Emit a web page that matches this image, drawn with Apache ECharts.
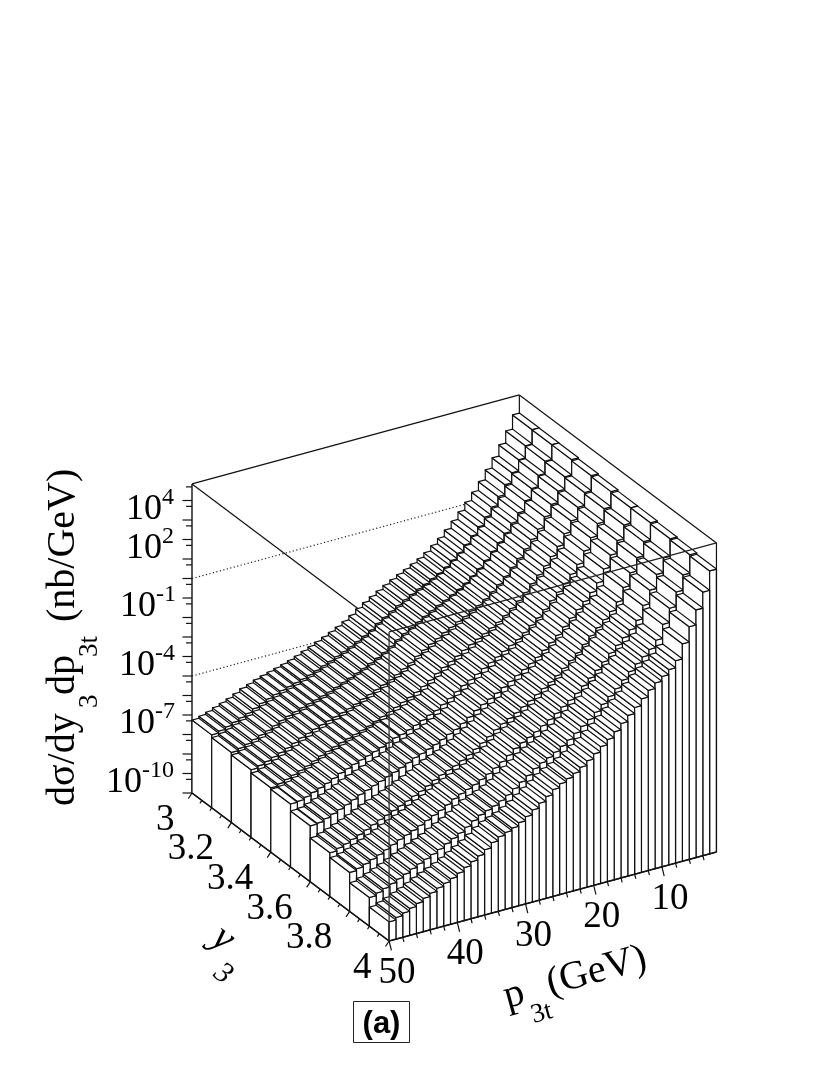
<!DOCTYPE html>
<html><head><meta charset="utf-8">
<style>html,body{margin:0;padding:0;background:#fff}#c{width:830px;height:1075px}</style>
<script src="https://cdn.jsdelivr.net/npm/echarts@6/dist/echarts.min.js"></script>
</head><body><div id="c"></div>
<script>
// upper edge (GeV) of each p_3t bin: 3,4,...,50
const pBinUpper = [3,4,5,6,7,8,9,10,11,12,13,14,15,16,17,18,19,20,21,22,23,24,25,26,27,28,29,30,31,32,33,34,35,36,37,38,39,40,41,42,43,44,45,46,47,48,49,50];
// log10(dsigma/dy3 dp3t) per y3 bin, lower edge in the name
const y30 = [4.92,4.19,3.57,3.00,2.48,1.97,1.52,1.10,0.70,0.32,-0.04,-0.37,-0.65,-0.92,-1.14,-1.32,-1.50,-1.66,-1.84,-2.02,-2.22,-2.42,-2.63,-2.85,-3.10,-3.31,-3.50,-3.67,-3.83,-3.98,-4.13,-4.27,-4.42,-4.55,-4.66,-4.76,-4.86,-4.96,-5.07,-5.20,-5.33,-5.50,-5.66,-5.79,-5.92,-6.05,-6.16,-6.26];
const y31 = [4.91,4.16,3.53,2.95,2.41,1.89,1.45,1.03,0.64,0.27,-0.09,-0.42,-0.71,-0.98,-1.20,-1.39,-1.57,-1.74,-1.92,-2.11,-2.31,-2.51,-2.71,-2.93,-3.18,-3.40,-3.59,-3.76,-3.93,-4.08,-4.23,-4.37,-4.52,-4.66,-4.77,-4.88,-4.98,-5.09,-5.20,-5.33,-5.46,-5.63,-5.79,-5.92,-6.05,-6.19,-6.30,-6.40];
const y32 = [4.90,4.12,3.48,2.89,2.35,1.81,1.37,0.97,0.58,0.21,-0.15,-0.48,-0.76,-1.04,-1.27,-1.46,-1.65,-1.82,-2.01,-2.19,-2.40,-2.59,-2.80,-3.02,-3.27,-3.48,-3.68,-3.86,-4.02,-4.17,-4.32,-4.46,-4.62,-4.76,-4.88,-4.99,-5.10,-5.21,-5.33,-5.46,-5.59,-5.76,-5.92,-6.06,-6.19,-6.32,-6.43,-6.53];
const y33 = [4.84,4.07,3.41,2.81,2.24,1.68,1.25,0.86,0.49,0.13,-0.23,-0.56,-0.85,-1.13,-1.37,-1.57,-1.77,-1.95,-2.14,-2.33,-2.54,-2.73,-2.93,-3.15,-3.40,-3.62,-3.82,-3.99,-4.15,-4.31,-4.46,-4.60,-4.74,-4.89,-5.02,-5.13,-5.25,-5.36,-5.48,-5.62,-5.75,-5.92,-6.08,-6.22,-6.35,-6.48,-6.60,-6.70];
const y34 = [4.78,4.00,3.33,2.70,2.11,1.52,1.10,0.72,0.37,0.02,-0.34,-0.67,-0.96,-1.24,-1.50,-1.71,-1.91,-2.11,-2.31,-2.51,-2.71,-2.91,-3.10,-3.32,-3.57,-3.79,-4.00,-4.14,-4.31,-4.47,-4.61,-4.75,-4.83,-4.99,-5.13,-5.25,-5.37,-5.49,-5.61,-5.75,-5.88,-6.05,-6.21,-6.35,-6.48,-6.62,-6.73,-6.77];
const y35 = [4.71,3.92,3.22,2.57,1.95,1.33,0.92,0.56,0.23,-0.11,-0.46,-0.80,-1.09,-1.38,-1.65,-1.88,-2.09,-2.30,-2.51,-2.72,-2.92,-3.12,-3.31,-3.52,-3.77,-4.00,-4.21,-4.36,-4.54,-4.70,-4.84,-4.98,-5.09,-5.26,-5.41,-5.55,-5.68,-5.82,-5.95,-6.09,-6.22,-6.39,-6.55,-6.70,-6.83,-6.97,-7.09,-7.13];
const y36 = [4.70,3.83,3.10,2.42,1.76,1.11,0.71,0.38,0.06,-0.26,-0.61,-0.95,-1.25,-1.55,-1.83,-2.07,-2.30,-2.52,-2.75,-2.96,-3.17,-3.36,-3.54,-3.75,-4.01,-4.24,-4.46,-4.67,-4.86,-5.03,-5.17,-5.31,-5.48,-5.68,-5.86,-6.01,-6.17,-6.32,-6.47,-6.61,-6.75,-6.91,-7.08,-7.23,-7.37,-7.51,-7.63,-7.75];
const y37 = [4.64,3.75,3.00,2.29,1.60,0.92,0.53,0.22,-0.08,-0.39,-0.74,-1.08,-1.38,-1.69,-1.98,-2.24,-2.48,-2.72,-2.95,-3.17,-3.38,-3.57,-3.75,-3.95,-4.21,-4.45,-4.67,-4.88,-5.07,-5.24,-5.38,-5.52,-5.68,-5.89,-6.08,-6.24,-6.41,-6.57,-6.73,-6.87,-7.01,-7.18,-7.34,-7.50,-7.64,-7.78,-7.91,-8.00];
const y38 = [4.58,3.64,2.86,2.12,1.39,0.67,0.29,0.00,-0.27,-0.57,-0.91,-1.26,-1.56,-1.87,-2.18,-2.46,-2.71,-2.97,-3.22,-3.45,-3.66,-3.85,-4.02,-4.22,-4.48,-4.72,-4.96,-5.20,-5.40,-5.57,-5.70,-5.84,-6.04,-6.27,-6.48,-6.66,-6.84,-7.03,-7.19,-7.34,-7.49,-7.65,-7.82,-7.98,-8.13,-8.27,-8.40,-8.53];
const y39 = [4.51,3.52,2.70,1.93,1.15,0.38,0.02,-0.24,-0.48,-0.76,-1.10,-1.45,-1.76,-2.08,-2.41,-2.71,-2.98,-3.26,-3.52,-3.76,-3.98,-4.16,-4.32,-4.52,-4.78,-5.03,-5.28,-5.53,-5.74,-5.92,-6.05,-6.19,-6.39,-6.65,-6.88,-7.08,-7.28,-7.48,-7.66,-7.81,-7.96,-8.12,-8.29,-8.46,-8.61,-8.76,-8.89,-9.02];
const yBinLower = [3.0,3.1,3.2,3.3,3.4,3.5,3.6,3.7,3.8,3.9];
const yRows = [y30,y31,y32,y33,y34,y35,y36,y37,y38,y39];

const zTickValues = [4,2,-1,-4,-7,-10];
const zTickExp = ['4','2','-1','-4','-7','-10'];
const zTickLabelX = [126,126,120,119,119,106];
const yTickLabels = ['3','3.2','3.4','3.6','3.8','4'];
const pTickLabels = ['50','40','30','20','10'];
const dottedZ = [1,-4];

const Y_BIN = 0.1, P_MIN = 2, P_MAX = 50, Y_MIN = 3, Y_MAX = 4, Z_MIN = -10, Z_MAX = 5.85;
// oblique view expressed in axis units
const U_PER_Y = 28.9, V_PER_P = 0.0951, V_PER_Y = 7.59;
const proj = (p,y,z) => [(P_MAX-p) + (y-Y_MIN)*U_PER_Y, z + (P_MAX-p)*V_PER_P - (y-Y_MIN)*V_PER_Y];

const barData = [];
yRows.forEach((row,i)=>row.forEach((v,j)=>barData.push([pBinUpper[j],yBinLower[i],v])));

const FONT = '"Liberation Serif"';
const INK = '#000';
const LW = 1.2;
const line = (a,b,extra) => ({type:'line',silent:true,shape:{x1:a[0],y1:a[1],x2:b[0],y2:b[1]},
  style:Object.assign({stroke:'#111',lineWidth:LW,fill:null},extra||{})});
const oneShot = (fn,z) => ({type:'custom',coordinateSystem:'cartesian2d',data:[[0,0]],z,silent:true,
  animation:false,clip:false,renderItem:(params,api)=>({type:'group',children:fn(api)})});
const pt = (api,p,y,z) => api.coord(proj(p,y,z));

// frame behind the bars, dotted grid lines, ticks and tick labels
const backLayer = api => {
  const c=[];
  const P=(p,y,z)=>pt(api,p,y,z);
  c.push(line(P(P_MAX,Y_MIN,Z_MAX),P(P_MIN,Y_MIN,Z_MAX)));
  c.push(line(P(P_MIN,Y_MIN,Z_MAX),P(P_MIN,Y_MAX,Z_MAX)));
  c.push(line(P(P_MAX,Y_MIN,Z_MAX),P(P_MAX,Y_MAX,Z_MAX)));
  c.push(line(P(P_MAX,Y_MIN,Z_MIN),P(P_MAX,Y_MIN,Z_MAX),{lineWidth:1.4}));
  c.push(line(P(P_MIN,Y_MIN,Z_MIN),P(P_MIN,Y_MIN,Z_MAX)));
  dottedZ.forEach(z=>c.push(line(P(P_MAX,Y_MIN,z),P(P_MIN,Y_MIN,z),{lineDash:[1.2,2.4],stroke:'#222'})));
  // z ticks: decades long, 5x10^(n-1) short
  for(let n=-10;n<=5;n++){
    const a=P(P_MAX,Y_MIN,n); c.push(line(a,[a[0]-9.5,a[1]]));
    const s=n+Math.log10(5); if(s<=Z_MAX){const b=P(P_MAX,Y_MIN,s); c.push(line(b,[b[0]-6,b[1]]));}
  }
  zTickValues.forEach((z,i)=>{
    const a=P(P_MAX,Y_MIN,z);
    c.push({type:'text',silent:true,x:zTickLabelX[i],y:a[1]-10.5,style:{text:'10',font:'36px '+FONT,fill:INK,align:'left',verticalAlign:'middle'}});
    c.push({type:'text',silent:true,x:zTickLabelX[i]+36,y:a[1]-22.5,style:{text:zTickExp[i],font:'24px '+FONT,fill:INK,align:'left',verticalAlign:'middle'}});
  });
  // y ticks
  for(let k=0;k<=20;k++){
    const y=Y_MIN+k*0.05, a=P(P_MAX,y,Z_MIN), long=k%4===0;
    c.push(line(a,[a[0]-(long?3.6:1.9),a[1]+(long?5.5:3)]));
  }
  yTickLabels.forEach((t,k)=>{
    const a=P(P_MAX,Y_MIN+k*0.2,Z_MIN);
    c.push({type:'text',silent:true,x:a[0]-17.5,y:a[1]+27,style:{text:t,font:'37px '+FONT,fill:INK,align:'right',verticalAlign:'middle'}});
  });
  // p ticks
  for(let v=4;v<=50;v+=2){
    const a=P(v,Y_MAX,Z_MIN), long=v%10===0;
    c.push(line(a,[a[0]+(long?2.3:1.2),a[1]+(long?9.3:4.5)]));
  }
  pTickLabels.forEach((t,k)=>{
    const a=P(50-k*10,Y_MAX,Z_MIN);
    c.push({type:'text',silent:true,x:a[0]+8,y:a[1]+32,style:{text:t,font:'37px '+FONT,fill:INK,align:'center',verticalAlign:'middle'}});
  });
  return c;
};

// frame edges that lie in front of the bars
const frontLayer = api => {
  const c=[];
  const P=(p,y,z)=>pt(api,p,y,z);
  c.push(line(P(P_MAX,Y_MIN,Z_MIN),P(P_MAX,Y_MAX,Z_MIN),{lineWidth:1.5}));
  c.push(line(P(P_MAX,Y_MAX,Z_MIN),P(P_MIN,Y_MAX,Z_MIN),{lineWidth:1.5}));
  c.push(line(P(P_MAX,Y_MAX,Z_MIN),P(P_MAX,Y_MAX,Z_MAX),{stroke:'#333',lineWidth:1.3}));
  c.push(line(P(P_MIN,Y_MAX,Z_MIN),P(P_MIN,Y_MAX,Z_MAX)));
  c.push(line(P(P_MAX,Y_MAX,Z_MAX),P(P_MIN,Y_MAX,Z_MAX),{stroke:'#222'}));
  return c;
};

const renderBar = (params,api) => {
  const p=api.value(0), y=api.value(1), z=api.value(2);
  const pl=p-1, yh=y+Y_BIN;
  const P=(a,b,c)=>pt(api,a,b,c);
  const poly=pts=>({type:'polygon',silent:true,shape:{points:pts},style:{fill:'#fff',stroke:'#111',lineWidth:LW,lineJoin:'round'}});
  return {type:'group',children:[
    poly([P(p,yh,Z_MIN),P(p,yh,z),P(p,y,z),P(p,y,Z_MIN)]),
    poly([P(p,yh,Z_MIN),P(p,yh,z),P(pl,yh,z),P(pl,yh,Z_MIN)]),
    poly([P(p,y,z),P(pl,y,z),P(pl,yh,z),P(p,yh,z)])
  ]};
};

const W=830,H=1075,PX_U=6.82,PX_V=19.5,OX=192,OY=793;
const chart = echarts.init(document.getElementById('c'),null,{renderer:'canvas',width:W,height:H});
const tg = (text,x,y,size,rot,extra) => Object.assign({type:'text',silent:true,x,y,rotation:rot||0,
  style:{text,font:size+'px '+FONT,fill:INK,align:'left',verticalAlign:'middle'}},extra||{});
const R90=Math.PI/2, RP=15.3*Math.PI/180, RY=-37*Math.PI/180;
chart.setOption({
  animation:false,
  backgroundColor:'#fff',
  grid:{left:0,right:0,top:0,bottom:0,containLabel:false},
  xAxis:{type:'value',show:false,min:-OX/PX_U,max:(W-OX)/PX_U,scale:true,splitLine:{show:false}},
  yAxis:{type:'value',show:false,min:Z_MIN-(H-OY)/PX_V,max:Z_MIN+OY/PX_V,scale:true,splitLine:{show:false}},
  series:[
    oneShot(backLayer,1),
    {type:'custom',coordinateSystem:'cartesian2d',data:barData,renderItem:renderBar,z:2,silent:true,animation:false,progressive:0,clip:false},
    oneShot(frontLayer,3)
  ],
  graphic:[
    tg('d\u03c3/dy',63.4,806,40,R90),
    tg('3',89.8,708,27,R90),
    tg('dp',63.4,695,40,R90),
    tg('3t',89.8,657,27,R90),
    tg('(nb/GeV)',63.4,622,40,R90),
    tg('p',504.4,997.9,40,RP),
    tg('3t',531.6,1016.1,27,RP),
    tg('(GeV)',547.4,984.9,40,RP),
    {type:'text',silent:true,x:223,y:939,rotation:RY,style:{text:'y',font:'italic 40px '+FONT,fill:INK,align:'center',verticalAlign:'middle'}},
    {type:'text',silent:true,x:223,y:974,rotation:RY,style:{text:'3',font:'italic 30px '+FONT,fill:INK,align:'center',verticalAlign:'middle'}},
    {type:'rect',silent:true,shape:{x:353.5,y:1001.5,width:56,height:41},style:{fill:'#fff',stroke:'#222',lineWidth:1}},
    {type:'text',silent:true,x:381.5,y:1024,style:{text:'(a)',font:'bold 31px "Liberation Sans"',fill:INK,align:'center',verticalAlign:'middle'}}
  ]
});
</script></body></html>
